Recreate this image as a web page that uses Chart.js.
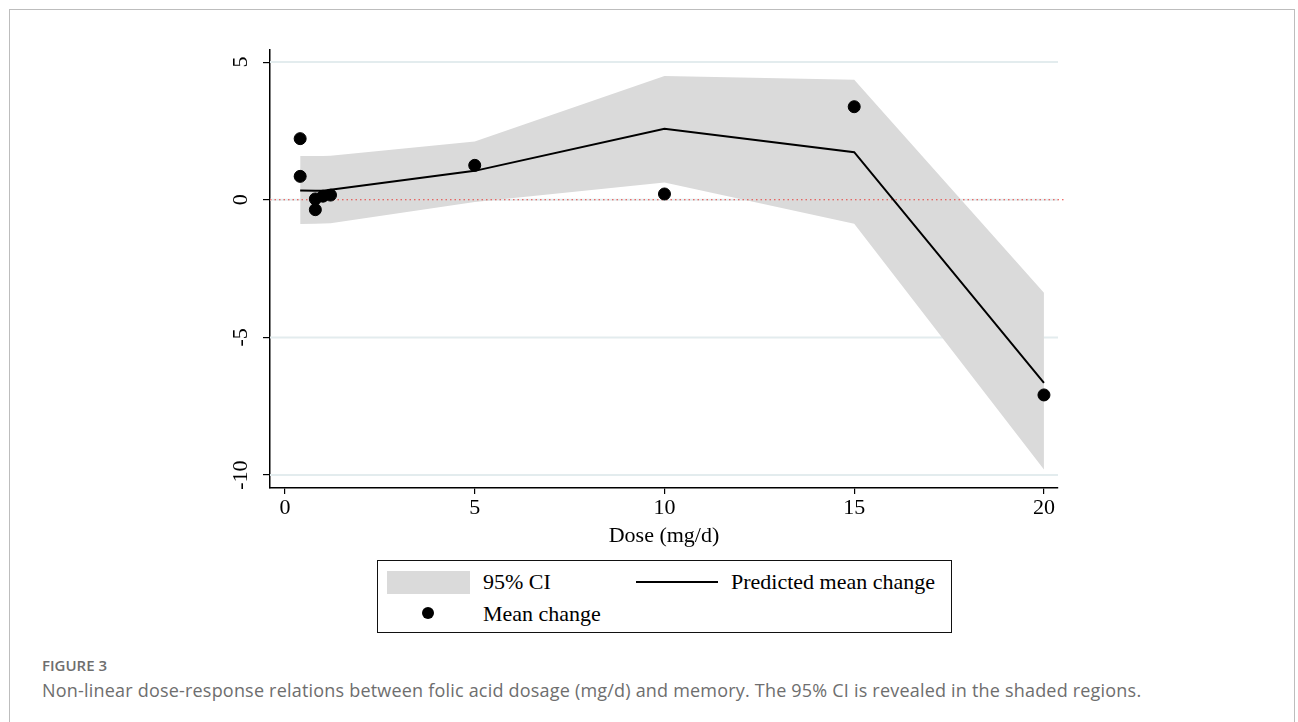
<!DOCTYPE html>
<html>
<head>
<meta charset="utf-8">
<script src="https://cdn.jsdelivr.net/npm/chart.js@4/dist/chart.umd.min.js"></script>
<style>
  html, body { margin: 0; padding: 0; background: #fff; }
  #wrap { position: relative; width: 1298px; height: 722px; overflow: hidden; }
  #frame { position: absolute; left: 9px; top: 9px; width: 1284px; height: 740px; border: 1px solid #bdbdbd; }
  #chart { position: absolute; left: 0; top: 0; }
  #legend { position: absolute; left: 377px; top: 560px; width: 573px; height: 71px; border: 1.5px solid #111;
            font-family: "Liberation Serif", "Times New Roman", serif; font-size: 22px; color: #000; }
  #legend .it { position: absolute; white-space: nowrap; line-height: 24px; }
  #caption-head { position: absolute; left: 42px; top: 655px; line-height: 20px; font-family: "Open Sans", sans-serif; font-weight: 600;
                  font-size: 15px; color: #6e6e6e; }
  #caption { position: absolute; left: 42px; top: 678px; line-height: 24px; font-family: "Open Sans", sans-serif; font-size: 18px;
             letter-spacing: 0.2px; color: #6e6e6e; white-space: nowrap; }
</style>
</head>
<body>
<div id="wrap">
  <div id="frame"></div>
  <canvas id="chart" width="1298" height="560"></canvas>
  <div id="legend">
    <div class="it" style="left:9px;top:10px;width:83px;height:23px;background:#dadada"></div>
    <div class="it" style="left:105px;top:9px">95% CI</div>
    <div class="it" style="left:258px;top:20px;width:82px;height:2px;background:#000"></div>
    <div class="it" style="left:353px;top:9px">Predicted mean change</div>
    <div class="it" style="left:44px;top:46px;width:12px;height:12px;border-radius:50%;background:#000"></div>
    <div class="it" style="left:105px;top:41px">Mean change</div>
  </div>
  <div id="caption-head">FIGURE 3</div>
  <div id="caption">Non-linear dose-response relations between folic acid dosage (mg/d) and memory. The 95% CI is revealed in the shaded regions.</div>
</div>
<script>
// observed study means
const obsDose = [0.4, 0.4, 0.8, 0.8, 1, 1.2, 5, 10, 15, 20];
const obsChange = [2.22, 0.85, 0.03, -0.36, 0.13, 0.17, 1.25, 0.21, 3.38, -7.09];

// fitted curve and its 95% CI
const fitDose = [0.4, 0.8, 1, 1.2, 5, 10, 15, 20];
const fitChange = [0.34, 0.33, 0.33, 0.36, 1.05, 2.58, 1.73, -6.65];
const ciUpper = [1.59, 1.59, 1.59, 1.6, 2.12, 4.5, 4.36, -3.38];
const ciLower = [-0.88, -0.87, -0.86, -0.85, -0.08, 0.63, -0.87, -9.8];

const xTicks = [0, 5, 10, 15, 20];
const yTicks = [5, 0, -5, -10];

const serif = '"Liberation Serif", "Times New Roman", serif';
const pts = (xs, ys) => xs.map((x, i) => ({ x: x, y: ys[i] }));

// light grid + red dotted zero line + rotated y labels (Stata look)
const stataBits = {
  id: 'stataBits',
  beforeDatasetsDraw(chart) {
    const { ctx, chartArea, scales } = chart;
    ctx.save();
    ctx.strokeStyle = '#e3ecee';
    ctx.lineWidth = 2;
    yTicks.forEach(v => {
      const y = scales.y.getPixelForValue(v);
      ctx.beginPath();
      ctx.moveTo(chartArea.left, y);
      ctx.lineTo(chartArea.right, y);
      ctx.stroke();
    });
    ctx.restore();
  },
  afterDatasetDraw(chart, args) {
    if (args.index !== 2) return;
    const { ctx, chartArea, scales } = chart;
    const y = scales.y.getPixelForValue(0);
    ctx.save();
    ctx.strokeStyle = '#e8403c';
    ctx.lineWidth = 1.2;
    ctx.setLineDash([1.5, 3]);
    ctx.beginPath();
    ctx.moveTo(chartArea.left, y);
    ctx.lineTo(chartArea.right + 7, y);
    ctx.stroke();
    ctx.restore();
  },
  afterDraw(chart) {
    const { ctx, scales } = chart;
    ctx.save();
    ctx.fillStyle = '#000';
    ctx.font = '22px ' + serif;
    ctx.textAlign = 'center';
    ctx.textBaseline = 'middle';
    yTicks.forEach(v => {
      ctx.save();
      ctx.translate(241, scales.y.getPixelForValue(v));
      ctx.rotate(-Math.PI / 2);
      ctx.fillText(String(v), 0, 0);
      ctx.restore();
    });
    ctx.restore();
  }
};

new Chart(document.getElementById('chart').getContext('2d'), {
  type: 'scatter',
  data: {
    datasets: [
      {
        label: 'Mean change',
        data: pts(obsDose, obsChange),
        backgroundColor: '#000',
        borderColor: '#000',
        pointRadius: 6,
        pointHoverRadius: 6
      },
      {
        label: 'Predicted mean change',
        type: 'line',
        data: pts(fitDose, fitChange),
        borderColor: '#000',
        borderWidth: 2,
        pointRadius: 0,
        tension: 0,
        fill: false
      },
      {
        label: '95% CI',
        type: 'line',
        data: pts(fitDose, ciUpper),
        borderWidth: 0,
        borderColor: 'rgba(0,0,0,0)',
        backgroundColor: '#dadada',
        pointRadius: 0,
        tension: 0,
        fill: '+1'
      },
      {
        label: 'lower',
        type: 'line',
        data: pts(fitDose, ciLower),
        borderWidth: 0,
        borderColor: 'rgba(0,0,0,0)',
        pointRadius: 0,
        tension: 0,
        fill: false
      }
    ]
  },
  options: {
    responsive: false,
    animation: false,
    layout: { padding: { top: 50, right: 240, left: 0, bottom: 0 } },
    plugins: {
      legend: { display: false },
      tooltip: { enabled: false }
    },
    scales: {
      x: {
        type: 'linear',
        min: -0.395,
        max: 20.37,
        afterBuildTicks: s => { s.ticks = xTicks.map(v => ({ value: v })); },
        afterFit: s => { s.height = 72; },
        grid: { drawOnChartArea: false, color: '#000', tickLength: 6, lineWidth: 1.2 },
        border: { color: '#000', width: 1.5 },
        ticks: { color: '#000', font: { family: serif, size: 22 }, padding: 1, maxRotation: 0 },
        title: { display: true, text: 'Dose (mg/d)', color: '#000', font: { family: serif, size: 22 }, padding: { top: 0, bottom: 11 } }
      },
      y: {
        type: 'linear',
        min: -10.47,
        max: 5.44,
        afterBuildTicks: s => { s.ticks = yTicks.map(v => ({ value: v })); },
        afterFit: s => { s.width = 270; },
        grid: { drawOnChartArea: false, color: '#000', tickLength: 7, lineWidth: 1.2 },
        border: { color: '#000', width: 1.5 },
        ticks: { display: false }
      }
    }
  },
  plugins: [stataBits]
});
</script>
</body>
</html>
